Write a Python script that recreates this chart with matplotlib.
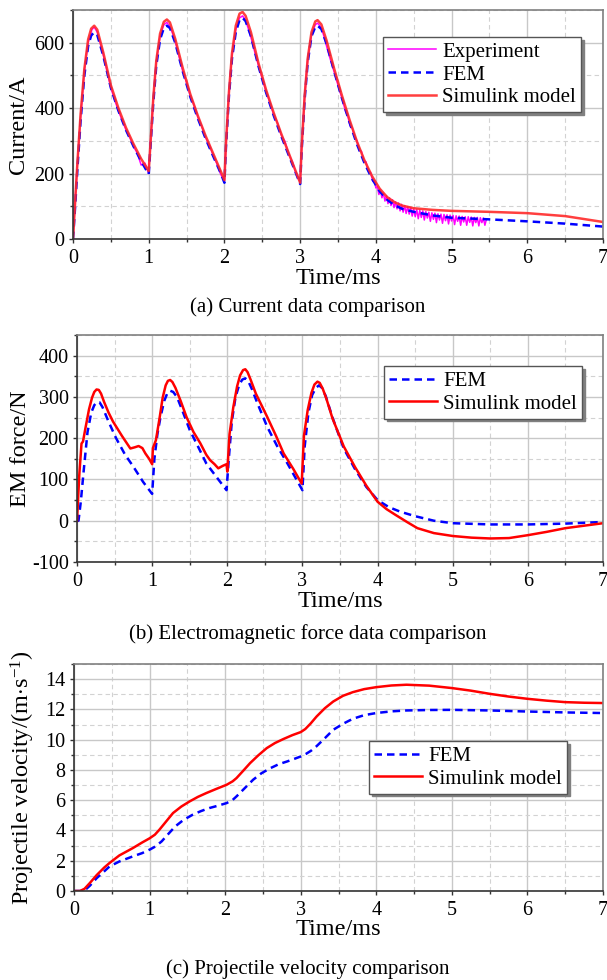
#!/usr/bin/env python3
"""Coil gun comparison: current, EM force and projectile velocity (FEM vs Simulink vs test)."""

import matplotlib
matplotlib.use("Agg")
import matplotlib.pyplot as plt
from matplotlib.ticker import MultipleLocator

plt.rcParams["font.family"] = ["Liberation Serif", "DejaVu Serif"]
plt.rcParams["mathtext.fontset"] = "custom"
plt.rcParams["mathtext.rm"] = "Liberation Serif"
plt.rcParams["mathtext.it"] = "Liberation Serif:italic"
plt.rcParams["axes.unicode_minus"] = False

# ---- (a) current, A ----
cur_sim_t = [0.00, 0.03, 0.06, 0.10, 0.15, 0.20, 0.24, 0.28, 0.32, 0.40, 0.50, 0.60, 0.70, 0.80, 0.90, 1.00,
             1.02, 1.06, 1.10, 1.15, 1.20, 1.24, 1.28, 1.35, 1.45, 1.55, 1.65, 1.75, 1.85, 1.95, 2.00,
             2.02, 2.06, 2.10, 2.15, 2.20, 2.24, 2.28, 2.35, 2.45, 2.55, 2.65, 2.75, 2.85, 2.95, 3.00,
             3.02, 3.06, 3.10, 3.15, 3.20, 3.23, 3.28, 3.35, 3.45, 3.55, 3.65, 3.75, 3.85, 3.95, 4.05,
             4.15, 4.25, 4.35, 4.50, 4.75, 5.00, 5.50, 6.00, 6.50, 7.00]
cur_sim = [0, 120, 240, 380, 520, 610, 643, 652, 640, 570, 470, 400, 340, 290, 245, 208,
           280, 430, 545, 628, 664, 671, 662, 612, 522, 442, 376, 316, 262, 208, 180,
           290, 450, 568, 652, 689, 694, 682, 632, 537, 456, 386, 322, 262, 202, 172,
           280, 440, 552, 632, 665, 669, 656, 606, 520, 440, 366, 298, 240, 192, 154,
           128, 112, 102, 94, 89, 86, 83, 79, 70, 52]

cur_fem_t = cur_sim_t
cur_fem = [0, 105, 220, 360, 500, 590, 622, 632, 624, 560, 462, 392, 333, 283, 238, 198,
           270, 415, 530, 610, 645, 652, 645, 600, 512, 434, 368, 308, 254, 202, 172,
           280, 438, 552, 632, 670, 676, 666, 620, 528, 448, 378, 315, 256, 198, 168,
           270, 428, 540, 620, 648, 652, 642, 596, 512, 432, 358, 290, 232, 184, 146,
           120, 103, 92, 83, 72, 65, 60, 54, 47, 38]

cur_exp_t = [0.00, 0.03, 0.06, 0.10, 0.15, 0.20, 0.25, 0.28, 0.32, 0.36, 0.40, 0.45, 0.50, 0.55, 0.60,
             0.65, 0.70, 0.75, 0.80, 0.85, 0.90, 0.95, 1.00,
             1.02, 1.06, 1.10, 1.15, 1.20, 1.24, 1.28, 1.32, 1.36, 1.40, 1.45, 1.50, 1.55, 1.60,
             1.65, 1.70, 1.75, 1.80, 1.85, 1.90, 1.95, 2.00,
             2.02, 2.06, 2.10, 2.15, 2.20, 2.24, 2.28, 2.32, 2.36, 2.40, 2.45, 2.50, 2.55, 2.60,
             2.65, 2.70, 2.75, 2.80, 2.85, 2.90, 2.95, 3.00,
             3.02, 3.06, 3.10, 3.15, 3.20, 3.23, 3.28, 3.32, 3.36, 3.40, 3.45, 3.50, 3.55, 3.60,
             3.63, 3.66, 3.69, 3.72, 3.75, 3.78, 3.81, 3.84, 3.87, 3.90, 3.93, 3.96, 3.98, 4.00,
             4.02, 4.04, 4.06, 4.08, 4.10, 4.12, 4.14, 4.16, 4.18, 4.20, 4.22, 4.24, 4.26, 4.28,
             4.30, 4.32, 4.34, 4.36, 4.38, 4.40, 4.42, 4.44, 4.46, 4.48, 4.50, 4.52, 4.54, 4.56,
             4.58, 4.60, 4.62, 4.64, 4.66, 4.68, 4.70, 4.72, 4.74, 4.76, 4.78, 4.80, 4.82, 4.84,
             4.86, 4.88, 4.90, 4.92, 4.94, 4.96, 4.98, 5.00, 5.02, 5.04, 5.06, 5.08, 5.10, 5.12,
             5.14, 5.16, 5.18, 5.20, 5.22, 5.24, 5.26, 5.28, 5.30, 5.32, 5.34, 5.36, 5.38, 5.40,
             5.42, 5.44, 5.46]
cur_exp = [0, 125, 235, 372, 515, 600, 640, 648, 632, 598, 562, 512, 462, 425, 392,
           362, 333, 310, 282, 262, 226, 232, 200,
           285, 425, 540, 620, 655, 662, 650, 625, 595, 558, 512, 478, 436, 408,
           372, 345, 310, 288, 256, 230, 198, 178,
           290, 445, 560, 640, 676, 682, 668, 640, 608, 572, 530, 490, 450, 418,
           380, 355, 318, 298, 258, 235, 196, 174,
           282, 438, 548, 625, 655, 660, 646, 615, 580, 548, 510, 470, 432, 390,
           375, 346, 338, 312, 300, 272, 268, 240, 236, 208, 204, 176, 180, 156,
           160, 136, 150, 126, 140, 116, 132, 108, 126, 102, 120, 96, 114, 92,
           110, 86, 106, 82, 102, 78, 99, 76, 96, 70, 92, 68, 90, 62,
           88, 66, 86, 58, 84, 64, 82, 54, 80, 60, 79, 50, 77, 58,
           76, 48, 75, 56, 74, 46, 73, 55, 72, 44, 71, 54, 70, 42,
           69, 52, 68, 42, 68, 51, 67, 40, 66, 50, 66, 40, 65, 50,
           64, 42, 60]

# ---- (b) electromagnetic force, N ----
force_sim_t = [0.00, 0.03, 0.06, 0.08, 0.11, 0.16, 0.20, 0.23, 0.26, 0.29, 0.32, 0.36, 0.42, 0.48,
               0.60, 0.71, 0.77, 0.82, 0.87, 0.91, 0.96, 1.00, 1.01, 1.05, 1.10, 1.14, 1.18, 1.21,
               1.24, 1.27, 1.31, 1.38, 1.46, 1.55, 1.64, 1.72, 1.77, 1.83, 1.88, 1.94, 1.99, 2.00,
               2.03, 2.08, 2.13, 2.17, 2.21, 2.24, 2.27, 2.31, 2.38, 2.53, 2.65, 2.75, 2.88, 2.99,
               3.02, 3.07, 3.12, 3.16, 3.20, 3.23, 3.27, 3.32, 3.40, 3.55, 3.70, 3.85, 4.00, 4.12,
               4.24, 4.40, 4.53, 4.75, 5.00, 5.25, 5.50, 5.75, 6.00, 6.25, 6.50, 6.75, 7.00]
force_sim = [0, 110, 187, 192, 222, 270, 298, 312, 318, 317, 308, 288, 262, 240,
             205, 175, 178, 181, 176, 163, 150, 137, 176, 195, 250, 298, 328, 339,
             341, 336, 322, 290, 250, 215, 188, 160, 147, 137, 127, 133, 137, 119,
             210, 275, 325, 352, 365, 367, 360, 342, 308, 252, 205, 163, 125, 90,
             205, 268, 310, 330, 337, 334, 320, 295, 248, 180, 130, 85, 46, 28,
             14, -4, -18, -30, -37, -41, -43, -42, -35, -27, -18, -12, -6]

force_fem_t = [0.00, 0.02, 0.05, 0.09, 0.14, 0.19, 0.23, 0.27, 0.30, 0.34, 0.42, 0.52, 0.64, 0.75,
               0.88, 1.00, 1.03, 1.07, 1.11, 1.16, 1.20, 1.24, 1.28, 1.33, 1.40, 1.50, 1.61, 1.72,
               1.86, 1.99, 2.02, 2.06, 2.11, 2.16, 2.20, 2.24, 2.28, 2.33, 2.40, 2.53, 2.66, 2.80,
               2.92, 3.00, 3.03, 3.08, 3.13, 3.18, 3.22, 3.26, 3.31, 3.40, 3.55, 3.70, 3.85, 4.00,
               4.15, 4.30, 4.50, 4.75, 5.00, 5.50, 6.00, 6.50, 7.00]
force_fem = [0, 0, 45, 123, 215, 262, 280, 288, 287, 275, 240, 200, 160, 131,
             94, 65, 150, 210, 250, 290, 308, 315, 312, 300, 268, 220, 180, 139,
             105, 74, 150, 240, 300, 330, 342, 345, 338, 318, 285, 228, 182, 139,
             100, 74, 180, 262, 305, 322, 328, 322, 302, 250, 175, 125, 82, 50,
             33, 22, 11, 0, -6, -9, -9, -7, -3]

# ---- (c) projectile velocity, m/s ----
vel_sim_t = [0.00, 0.08, 0.14, 0.21, 0.30, 0.40, 0.47, 0.60, 0.78, 0.90, 1.00, 1.07, 1.13, 1.22, 1.31,
             1.42, 1.53, 1.64, 1.75, 1.88, 2.02, 2.10, 2.15, 2.24, 2.33, 2.44, 2.55, 2.66, 2.77,
             2.89, 3.00, 3.06, 3.13, 3.21, 3.32, 3.43, 3.56, 3.69, 3.84, 4.00, 4.20, 4.40, 4.70,
             5.00, 5.25, 5.50, 5.75, 6.00, 6.25, 6.50, 6.75, 7.00]
vel_sim = [0.0, 0.0, 0.15, 0.53, 1.05, 1.55, 1.85, 2.35, 2.84, 3.20, 3.48, 3.72, 4.05, 4.60, 5.15,
           5.58, 5.92, 6.22, 6.47, 6.74, 7.02, 7.25, 7.46, 7.95, 8.45, 8.97, 9.44, 9.78, 10.04,
           10.30, 10.50, 10.70, 11.06, 11.53, 12.08, 12.52, 12.90, 13.14, 13.34, 13.47, 13.58, 13.63, 13.57,
           13.41, 13.24, 13.03, 12.85, 12.70, 12.58, 12.48, 12.44, 12.42]

vel_fem_t = [0.00, 0.10, 0.15, 0.21, 0.30, 0.40, 0.47, 0.60, 0.78, 0.90, 1.00, 1.08, 1.16, 1.25, 1.34,
             1.45, 1.57, 1.68, 1.79, 1.90, 2.02, 2.10, 2.15, 2.26, 2.37, 2.48, 2.60, 2.71, 2.82,
             2.92, 3.00, 3.07, 3.14, 3.21, 3.32, 3.43, 3.56, 3.69, 3.84, 4.00, 4.20, 4.40, 4.70,
             5.00, 5.50, 6.00, 6.50, 7.00]
vel_fem = [0.0, 0.0, 0.08, 0.35, 0.85, 1.30, 1.62, 1.95, 2.29, 2.50, 2.73, 2.95, 3.28, 3.78, 4.27,
           4.70, 5.04, 5.28, 5.48, 5.63, 5.81, 6.02, 6.25, 6.80, 7.35, 7.78, 8.12, 8.38, 8.56,
           8.74, 8.89, 9.06, 9.28, 9.57, 10.10, 10.65, 11.05, 11.38, 11.62, 11.76, 11.87, 11.93, 11.96,
           11.97, 11.93, 11.86, 11.80, 11.76]

panel_captions = ["(a) Current data comparison",
                  "(b) Electromagnetic force data comparison",
                  "(c) Projectile velocity comparison"]
y_labels = ["Current/A", "EM force/N", r"Projectile velocity/(m$\cdot$s$^{-1}$)"]

W, H = 607, 980
TICK_FS = 14.5
LABEL_FS = 17.5
LEGEND_FS = 15
CAPTION_FS = 15


def style_axes(ax, ylim, ymajor, yminor):
    ax.set_xlim(0, 7)
    ax.set_ylim(*ylim)
    ax.xaxis.set_major_locator(MultipleLocator(1))
    ax.xaxis.set_minor_locator(MultipleLocator(0.5))
    ax.yaxis.set_major_locator(MultipleLocator(ymajor))
    ax.yaxis.set_minor_locator(MultipleLocator(yminor))
    ax.grid(which="major", color="#c8c8c8", lw=1.0, ls="-")
    ax.grid(which="minor", color="#d2d2d2", lw=0.8, ls=(0, (4, 3)))
    ax.set_axisbelow(True)
    ax.tick_params(which="major", direction="out", length=3, width=1, pad=3,
                   labelsize=TICK_FS, color="#333333")
    ax.tick_params(which="minor", direction="out", length=2.5, width=1, color="#333333")
    ax.tick_params(axis="x", which="major", pad=4)
    for side in ("left", "bottom"):
        ax.spines[side].set_color("#333333")
        ax.spines[side].set_linewidth(1.2)
    for side in ("top", "right"):
        ax.spines[side].set_color("#808080")
        ax.spines[side].set_linewidth(1.2)


def add_legend(fig, ax, px, py):
    leg = ax.legend(loc="upper left", bbox_to_anchor=(px / W, 1 - py / H),
                    bbox_transform=fig.transFigure, borderaxespad=0,
                    fontsize=LEGEND_FS, fancybox=False,
                    shadow={"color": "#808080", "alpha": 1, "ox": 2, "oy": -2},
                    framealpha=1, edgecolor="#555555", handlelength=2.3,
                    handletextpad=0.3, labelspacing=0.15, borderpad=0.25)
    leg.get_frame().set_linewidth(1.0)


def main():
    fig = plt.figure(figsize=(W / 100, H / 100), dpi=100)

    boxes = [(73, 10, 603, 239), (77, 335, 603, 562), (74, 664, 603, 891)]
    axes = []
    for (x0, y0, x1, y1) in boxes:
        axes.append(fig.add_axes([x0 / W, 1 - y1 / H, (x1 - x0) / W, (y1 - y0) / H]))
    ax_a, ax_b, ax_c = axes

    # (a)
    ax_a.plot(cur_exp_t, cur_exp, color="#ff00ff", lw=1.1, label="Experiment")
    ax_a.plot(cur_fem_t, cur_fem, color="#0000ff", lw=1.8, ls=(0, (3, 2)), label="FEM")
    ax_a.plot(cur_sim_t, cur_sim, color="#ff2a2a", lw=1.8, label="Simulink model", alpha=0.9)
    style_axes(ax_a, (0, 700), 200, 100)
    add_legend(fig, ax_a, 383, 37)

    # (b)
    ax_b.plot(force_fem_t, force_fem, color="#0000ff", lw=1.8, ls=(0, (3, 2)), label="FEM")
    ax_b.plot(force_sim_t, force_sim, color="#ff0000", lw=1.8, label="Simulink model")
    style_axes(ax_b, (-100, 450), 100, 50)
    add_legend(fig, ax_b, 384, 366)

    # (c)
    ax_c.plot(vel_fem_t, vel_fem, color="#0000ff", lw=1.8, ls=(0, (3, 2)), label="FEM")
    ax_c.plot(vel_sim_t, vel_sim, color="#ff0000", lw=1.8, label="Simulink model")
    style_axes(ax_c, (0, 15), 2, 1)
    add_legend(fig, ax_c, 369, 741)

    ylab_x = [-0.083, -0.088, -0.07]
    xlab_y = [-0.127, -0.128, -0.123]
    cap_y = [307, 634, 969]
    for ax, lab, lx, ly, cap, cy in zip(axes, y_labels, ylab_x, xlab_y, panel_captions, cap_y):
        ax.set_xlabel("Time/ms", fontsize=LABEL_FS)
        ax.set_ylabel(lab, fontsize=LABEL_FS)
        ax.yaxis.set_label_coords(lx, 0.5)
        ax.xaxis.set_label_coords(0.5, ly)
        fig.text(308 / W, 1 - cy / H, cap, fontsize=CAPTION_FS, ha="center", va="center")

    fig.savefig("out.png", dpi=100)
    plt.close(fig)


if __name__ == "__main__":
    main()
